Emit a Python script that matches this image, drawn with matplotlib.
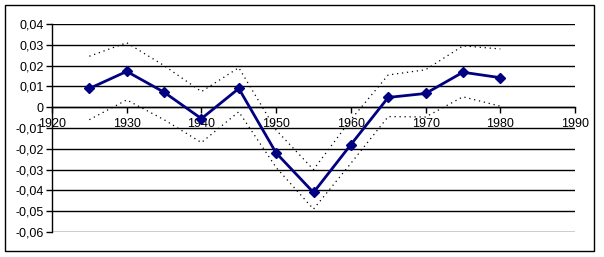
import matplotlib
matplotlib.use("Agg")
import matplotlib.pyplot as plt
from matplotlib.patches import Rectangle
from matplotlib.ticker import FuncFormatter, MultipleLocator

# ── Datos ────────────────────────────────────────────────────────
anios = [1925, 1930, 1935, 1940, 1945, 1950, 1955, 1960, 1965, 1970, 1975, 1980]
valor = [0.009, 0.0172, 0.0072, -0.0055, 0.009, -0.022, -0.041, -0.018,
         0.0047, 0.0066, 0.0168, 0.0142]
superior = [0.0245, 0.031, 0.020, 0.0075, 0.019, -0.011, -0.030, -0.006,
            0.0155, 0.018, 0.0295, 0.028]
inferior = [-0.006, 0.0035, -0.006, -0.017, -0.0022, -0.029, -0.049, -0.027,
            -0.0045, -0.0047, 0.005, 0.0005]
xticks = [1920, 1930, 1940, 1950, 1960, 1970, 1980, 1990]

plt.rcParams["font.family"] = ["Liberation Sans", "DejaVu Sans"]
plt.rcParams["axes.unicode_minus"] = False

W, H = 604, 257
fig = plt.figure(figsize=(W / 100, H / 100), dpi=100)
ax = fig.add_axes([52 / W, 1 - 232 / H, (575 - 52) / W, (232 - 24) / H])

ax.plot(anios, superior, color="black", lw=0.9, ls=(0, (1, 3)))
ax.plot(anios, inferior, color="black", lw=0.9, ls=(0, (1, 3)))
ax.plot(anios, valor, color="#000080", lw=2, marker="D", ms=5, zorder=5)

ax.set_xlim(1920, 1990)
ax.set_ylim(-0.06, 0.04)
ax.set_xticks(xticks)
ax.yaxis.set_major_locator(MultipleLocator(0.01))


def fmt(v, pos):
    if abs(v) < 1e-9:
        return "0"
    return f"{v:.2f}".replace(".", ",")


ax.yaxis.set_major_formatter(FuncFormatter(fmt))
ax.grid(axis="y", color="black", lw=1)
ax.set_axisbelow(True)

for s in ("top", "right"):
    ax.spines[s].set_visible(False)
ax.spines["bottom"].set_position(("data", 0))
ax.spines["left"].set_linewidth(1)
ax.spines["bottom"].set_linewidth(1)
ax.tick_params(axis="x", direction="out", length=4, width=1, pad=4, labelsize=9)
ax.tick_params(axis="y", direction="out", length=4, width=1, pad=2, labelsize=9)
ax.patch.set_alpha(0)

fig.add_artist(Rectangle((5 / W, 1 - 251 / H), (594 - 5) / W, (251 - 5) / H,
                         transform=fig.transFigure, fill=False,
                         edgecolor="black", lw=1))

fig.savefig("out.png", dpi=100)
